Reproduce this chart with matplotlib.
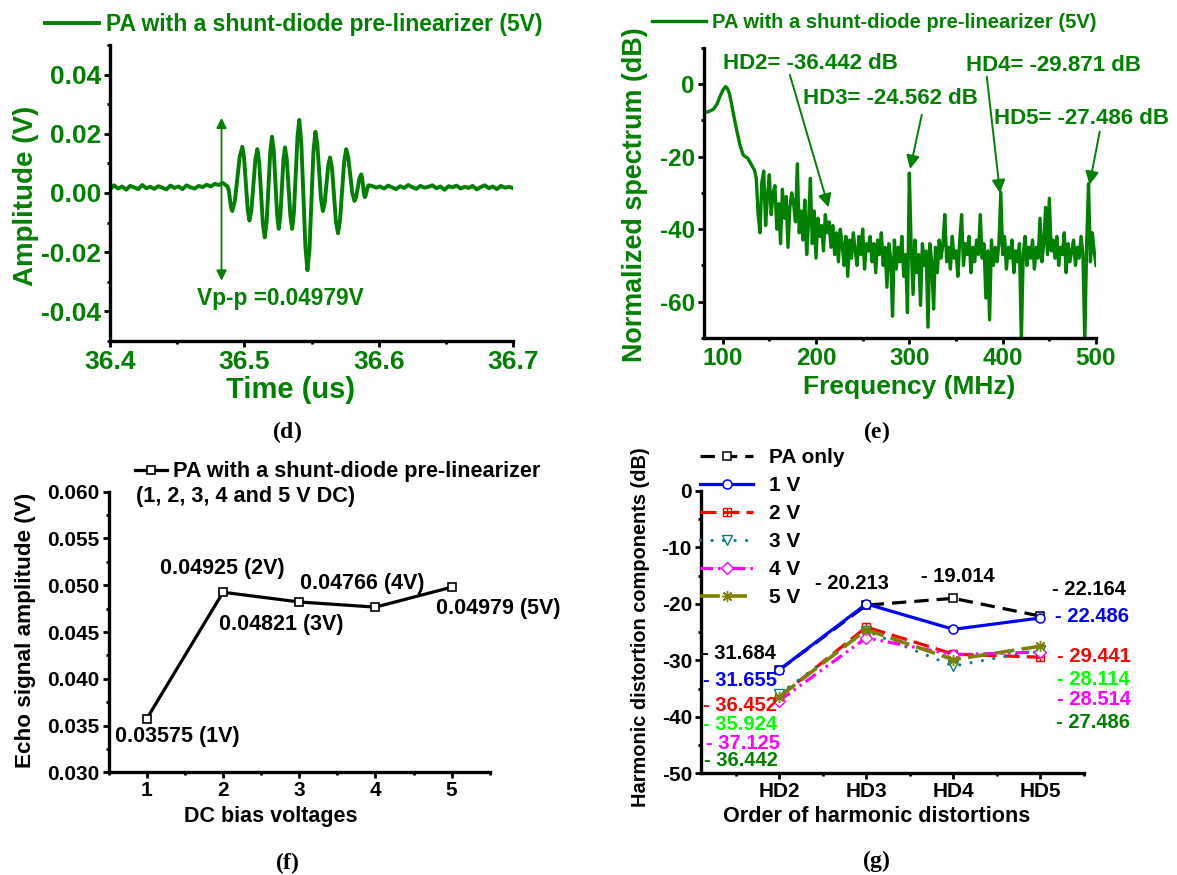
import numpy as np
import matplotlib
matplotlib.use('Agg')
import matplotlib.pyplot as plt
from matplotlib.path import Path
from matplotlib.ticker import MultipleLocator, FormatStrFormatter

plt.rcParams['font.family'] = ['Liberation Sans', 'DejaVu Sans']
plt.rcParams['font.weight'] = 'bold'
plt.rcParams['axes.unicode_minus'] = False
plt.rcParams['mathtext.fontset'] = 'custom'
plt.rcParams['mathtext.rm'] = 'Liberation Serif'
plt.rcParams['mathtext.bf'] = 'Liberation Serif:bold'

GREEN = '#008000'
W, H = 1177, 875

# ---------------- (d) echo waveform, PA + shunt diode (5V) ----------------
t_pre = np.arange(36.400, 36.4851, 0.003)   # scope sample grid
v_pre = [0.0012, 0.0026, 0.0015, 0.0022, 0.0011, 0.0024, 0.0019, 0.0013, 0.0027, 0.0016,
         0.0021, 0.0014, 0.0023, 0.0018, 0.0012, 0.0025, 0.0017, 0.0022, 0.0013, 0.0026,
         0.0019, 0.0015, 0.0024, 0.0020, 0.0028, 0.0022, 0.0031, 0.0027, 0.0034]
# burst: peaks/troughs plus the shoulders
t_burst = [36.4875, 36.4884, 36.4901, 36.4910, 36.4929, 36.4966, 36.4985, 36.4998, 36.5025,
           36.5038, 36.5053, 36.5082, 36.5097, 36.5111, 36.5138, 36.5152, 36.5166, 36.5193,
           36.5206, 36.5219, 36.5244, 36.5256, 36.5268, 36.5291, 36.5303, 36.5316, 36.5343,
           36.5356, 36.5369, 36.5396, 36.5409, 36.5424, 36.5455, 36.5470, 36.5485, 36.5514,
           36.5529, 36.5543, 36.5571, 36.5585, 36.5598, 36.5625, 36.5638, 36.5653, 36.5682,
           36.5697, 36.5712, 36.5743, 36.5758, 36.5773, 36.5804, 36.5820, 36.5832, 36.5857,
           36.5870, 36.5877, 36.5890, 36.5897, 36.5904, 36.5918, 36.5925]
v_burst = [0.0022, 0.0010, -0.0049, -0.0061, -0.0028, 0.0123, 0.0156, 0.0119, -0.0056,
           -0.0093, -0.0057, 0.0112, 0.0148, 0.0103, -0.0105, -0.0150, -0.0099, 0.0139,
           0.0190, 0.0143, -0.0074, -0.0121, -0.0080, 0.0113, 0.0154, 0.0113, -0.0080,
           -0.0121, -0.0066, 0.0192, 0.0247, 0.0171, -0.0185, -0.0261, -0.0191, 0.0137,
           0.0207, 0.0167, -0.0021, -0.0061, -0.0034, 0.0093, 0.0120, 0.0082, -0.0098,
           -0.0136, -0.0093, 0.0105, 0.0148, 0.0122, -0.0001, -0.0027, -0.0014, 0.0050,
           0.0063, 0.0051, -0.0002, -0.0014, -0.0008, 0.0020, 0.0026]
t_post = np.arange(36.595, 36.7001, 0.003)
v_post = [0.0024, 0.0018, 0.0022, 0.0015, 0.0025, 0.0019, 0.0013, 0.0023, 0.0017, 0.0027,
          0.0020, 0.0014, 0.0024, 0.0018, 0.0021, 0.0026, 0.0016, 0.0022, 0.0011, 0.0023,
          0.0019, 0.0025, 0.0015, 0.0021, 0.0017, 0.0024, 0.0012, 0.0020, 0.0026, 0.0016,
          0.0022, 0.0013, 0.0024, 0.0018, 0.0021, 0.0017]
vpp_top, vpp_bot, vpp_t = 0.0254, -0.0296, 36.483

# ---------------- (e) normalized spectrum ----------------
f_low = [80, 85, 90, 94, 97, 100, 103, 105, 107, 109, 111.4, 115, 118.5, 122, 127, 131, 134]
db_low = [-7.9, -7.6, -7.0, -5.5, -3.5, -1.8, -0.7, -1.2, -2.4, -4.8, -8.1, -12.7, -16.8,
          -19.6, -20.5, -22.3, -23.7]
f_noise = np.arange(136, 501, 2)   # analyser bins
db_noise = [
    -26, -36, -41, -27, -24, -39, -31, -25, -36, -30,
    -28, -40, -33, -44, -29, -37, -31, -45, -34, -30,
    -33, -38, -22, -41, -35, -43, -32, -47, -38, -26,
    -44, -35, -48, -37, -42, -39, -46, -36, -41, -38,
    -45, -39, -47, -41, -49, -40, -44, -50, -42, -53,
    -43, -48, -41, -46, -50, -42, -47, -40, -51, -44,
    -46, -42, -49, -44, -52, -43, -47, -41, -50, -45,
    -56, -44, -48, -64, -43, -51, -45, -49, -42, -53,
    -47, -63, -24.562, -45, -58, -43, -52, -47, -61, -44,
    -50, -46, -67, -44, -49, -62, -45, -52, -43, -48,
    -44, -36, -49, -45, -51, -42, -48, -46, -53, -43,
    -36, -50, -44, -47, -42, -52, -45, -49, -43, -47,
    -36, -48, -44, -59, -46, -65, -43, -50, -45, -49,
    -44, -29.871, -47, -42, -51, -45, -48, -43, -52, -46,
    -49, -44, -71, -47, -42, -50, -45, -48, -43, -51,
    -45, -48, -37, -49, -44, -34, -47, -31.5, -46, -43,
    -48, -42, -50, -45, -47, -41, -52, -44, -49, -46,
    -43, -50, -45, -48, -42, -47, -71, -44, -27.486, -49,
    -41, -46, -50]
hd_notes = ['HD2= -36.442 dB', 'HD3= -24.562 dB', 'HD4= -29.871 dB', 'HD5= -27.486 dB']
hd_tip = [(213.5, -34.0), (300.8, -23.4), (397.2, -30.1), (493.0, -27.8)]
hd_tail = [(172.0, 2.5), (313.3, -8.5), (383.0, 2.0), (504.0, -13.1)]
hd_text_at = [(194, 5.7), (280, -3.9), (454.6, 4.96), (485, -9.45)]

# ---------------- (f) echo amplitude vs DC bias ----------------
bias = [1, 2, 3, 4, 5]
echo_amp = [0.03575, 0.04925, 0.04821, 0.04766, 0.04979]
amp_notes = ['0.03575 (1V)', '0.04925 (2V)', '0.04821 (3V)', '0.04766 (4V)', '0.04979 (5V)']
amp_note_at = [(1.403, 0.03388), (1.991, 0.05181), (2.768, 0.04575), (3.831, 0.05021),
               (5.615, 0.04746)]

# ---------------- (g) harmonic distortion components ----------------
orders = ['HD2', 'HD3', 'HD4', 'HD5']
order_pos = [2, 3, 4, 5]
hd_pa = [-31.684, -20.213, -19.014, -22.164]
hd_1v = [-31.655, -20.0, -24.5, -22.486]
hd_2v = [-36.452, -24.1, -28.9, -29.441]
hd_3v = [-35.924, -24.8, -31.0, -28.114]
hd_4v = [-37.125, -26.0, -29.0, -28.514]
hd_5v = [-36.442, -24.562, -29.871, -27.486]
left_notes = ['- 31.684', '- 31.655', '- 36.452', '- 35.924', '- 37.125', '- 36.442']
left_y = [-28.86, -33.59, -38.07, -41.44, -44.80, -47.81]
left_x = [1.537, 1.543, 1.543, 1.547, 1.577, 1.560]
right_notes = ['- 22.164', '- 22.486', '- 29.441', '- 28.114', '- 28.514', '- 27.486']
right_y = [-17.41, -22.26, -29.34, -33.35, -36.89, -40.96]
right_x = [5.558, 5.588, 5.608, 5.611, 5.611, 5.608]
note_colors = ['black', '#0000ff', '#ff0000', '#00ff00', '#ff00ff', GREEN]


def fx(px):
    return px / W


def fy(py):
    return 1 - py / H


def box(l, t, r, b):
    return [fx(l), fy(b), (r - l) / W, (b - t) / H]


def style(ax, color, size):
    for s in ['top', 'right']:
        ax.spines[s].set_visible(False)
    for s in ['left', 'bottom']:
        ax.spines[s].set_linewidth(2.4)
    ax.tick_params(which='major', direction='out', length=4, width=2,
                   labelsize=size, labelcolor=color, pad=2.5)
    ax.tick_params(which='minor', direction='out', length=2.5, width=2)


fig = plt.figure(figsize=(W / 100, H / 100), dpi=100)

# (d)
ax = fig.add_axes(box(110, 45, 513, 341))
t_all = np.concatenate([t_pre, t_burst, t_post])
v_all = np.concatenate([v_pre, v_burst, v_post])
ax.plot(t_all, v_all, color=GREEN, lw=2.8, solid_joinstyle='round',
        label='PA with a shunt-diode pre-linearizer (5V)')
ax.set_xlim(36.4, 36.7)
ax.set_ylim(-0.05, 0.05)
ax.xaxis.set_major_locator(MultipleLocator(0.1))
ax.xaxis.set_minor_locator(MultipleLocator(0.05))
ax.yaxis.set_major_locator(MultipleLocator(0.02))
ax.yaxis.set_minor_locator(MultipleLocator(0.01))
ax.yaxis.set_major_formatter(FormatStrFormatter('%.2f'))
ax.xaxis.set_major_formatter(FormatStrFormatter('%.1f'))
style(ax, GREEN, 19)
ax.annotate('', xy=(vpp_t, vpp_top), xytext=(vpp_t, vpp_bot),
            arrowprops=dict(arrowstyle='<|-|>', color=GREEN, lw=1.3,
                            mutation_scale=15, shrinkA=0, shrinkB=0))
ax.text(36.5266, -0.0358, 'Vp-p =0.04979V', color=GREEN, fontsize=16.3,
        ha='center', va='center')
ax.legend(loc='center left', bbox_to_anchor=(fx(45), fy(25)), bbox_transform=fig.transFigure,
          frameon=False, borderpad=0, borderaxespad=0, handlelength=2.36,
          handletextpad=0.3, labelcolor=GREEN, prop={'size': 16.5, 'weight': 'bold'})
fig.text(fx(26), fy(196), 'Amplitude (V)', rotation=90, ha='center', va='center',
         color=GREEN, fontsize=20)
fig.text(fx(290.6), fy(390), 'Time (us)', ha='center', va='center', color=GREEN, fontsize=21)

# (e)
ax = fig.add_axes(box(704, 47.7, 1096, 338))
ax.plot(np.concatenate([f_low, f_noise]), np.concatenate([db_low, db_noise]),
        color=GREEN, lw=2.4, solid_joinstyle='round',
        label='PA with a shunt-diode pre-linearizer (5V)')
ax.set_xlim(80, 500)
ax.set_ylim(-70, 10)
ax.xaxis.set_major_locator(MultipleLocator(100))
ax.xaxis.set_minor_locator(MultipleLocator(50))
ax.yaxis.set_minor_locator(MultipleLocator(10))
ax.set_yticks([0, -20, -40, -60])
style(ax, GREEN, 17.5)
for note, tip, tail, at in zip(hd_notes, hd_tip, hd_tail, hd_text_at):
    ax.annotate('', xy=tip, xytext=tail, annotation_clip=False,
                arrowprops=dict(arrowstyle='-|>', color=GREEN, lw=1.4,
                                mutation_scale=20, shrinkA=0, shrinkB=0))
    ax.text(at[0], at[1], note, color=GREEN, fontsize=16, ha='center', va='center',
            clip_on=False)
ax.legend(loc='center left', bbox_to_anchor=(fx(652), fy(23)), bbox_transform=fig.transFigure,
          frameon=False, borderpad=0, borderaxespad=0, handlelength=2.7,
          handletextpad=0.27, labelcolor=GREEN, prop={'size': 14.5, 'weight': 'bold'})
fig.text(fx(635), fy(195), 'Normalized spectrum (dB)', rotation=90, ha='center', va='center',
         color=GREEN, fontsize=19.4)
fig.text(fx(909), fy(387), 'Frequency (MHz)', ha='center', va='center', color=GREEN,
         fontsize=19)

# (f)
ax = fig.add_axes(box(108.8, 491.7, 489.7, 772.3))
ax.plot(bias, echo_amp, color='black', lw=2.3, marker='s', ms=6, mfc='white', mec='black',
        mew=1.2, label='PA with a shunt-diode pre-linearizer')
ax.set_xlim(0.5, 5.5)
ax.set_ylim(0.030, 0.060)
ax.xaxis.set_major_locator(MultipleLocator(1))
ax.xaxis.set_minor_locator(MultipleLocator(0.5))
ax.yaxis.set_major_locator(MultipleLocator(0.005))
ax.yaxis.set_minor_locator(MultipleLocator(0.0025))
ax.yaxis.set_major_formatter(FormatStrFormatter('%.3f'))
style(ax, 'black', 15)
for note, at in zip(amp_notes, amp_note_at):
    ax.text(at[0], at[1], note, fontsize=15.5, ha='center', va='center', clip_on=False)
ax.legend(loc='center left', bbox_to_anchor=(fx(135), fy(471.7)), bbox_transform=fig.transFigure,
          frameon=False, borderpad=0, borderaxespad=0, handlelength=1.47,
          handletextpad=0.3, prop={'size': 15.6, 'weight': 'bold'})
fig.text(fx(135.8), fy(496.7), '(1, 2, 3, 4 and 5 V DC)', ha='left', va='center', fontsize=15.6)
fig.text(fx(26), fy(630.5), 'Echo signal amplitude (V)', rotation=90, ha='center',
         va='center', fontsize=16.2)
fig.text(fx(271), fy(816.7), 'DC bias voltages', ha='center', va='center', fontsize=15.5)

# (g)
box_cross = Path([(-1, -1), (1, -1), (1, 1), (-1, 1), (-1, -1), (0, -1), (0, 1), (-1, 0), (1, 0)],
                 [Path.MOVETO, Path.LINETO, Path.LINETO, Path.LINETO, Path.LINETO,
                  Path.MOVETO, Path.LINETO, Path.MOVETO, Path.LINETO])
ax = fig.add_axes(box(701, 491, 1084, 773.3))
ax.plot(order_pos, hd_pa, color='black', lw=2.3, dashes=(4.5, 2.5), marker='s', ms=5.5,
        mfc='white', mec='black', mew=1.1, label='PA only')
ax.plot(order_pos, hd_1v, color='#0000ff', lw=2.3, marker='o', ms=6.5, mfc='white',
        mec='#0000ff', mew=1.1, label='1 V')
ax.plot(order_pos, hd_2v, color='#ff0000', lw=2.3, dashes=(5, 2.2), marker=box_cross, ms=6,
        mfc='none', mec='#ff0000', mew=1.0, label='2 V')
ax.plot(order_pos, hd_3v, color='#008080', lw=2.3, dashes=(0.01, 3.6), dash_capstyle='round',
        marker='v', ms=7, mfc='white', mec='#008080', mew=1.0, label='3 V')
ax.plot(order_pos, hd_4v, color='#ff00ff', lw=2.3, dashes=(4, 1.5, 0.8, 1.5, 0.8, 1.5),
        marker='D', ms=6, mfc='white', mec='#ff00ff', mew=1.0, label='4 V')
ax.plot(order_pos, hd_5v, color='#808000', lw=2.6, dashes=(5.5, 2), marker=(8, 2, 0), ms=8,
        mec='#808000', mew=1.0, label='5 V')
ax.set_xlim(1.1, 5.5)
ax.set_ylim(-50, 0)
ax.set_xticks(order_pos)
ax.set_xticklabels(orders)
ax.xaxis.set_minor_locator(MultipleLocator(0.5))
ax.yaxis.set_major_locator(MultipleLocator(10))
ax.yaxis.set_minor_locator(MultipleLocator(5))
style(ax, 'black', 15)
for note, x, y, c in zip(left_notes, left_x, left_y, note_colors):
    ax.text(x, y, note, color=c, fontsize=14.5, ha='center', va='center', clip_on=False)
for note, x, y, c in zip(right_notes, right_x, right_y, note_colors):
    ax.text(x, y, note, color=c, fontsize=14.5, ha='center', va='center', clip_on=False)
ax.text(2.835, -16.47, '- 20.213', fontsize=14.5, ha='center', va='center')
ax.text(4.047, -15.18, '- 19.014', fontsize=14.5, ha='center', va='center')
ax.legend(loc='upper left', bbox_to_anchor=(fx(700), fy(448)), bbox_transform=fig.transFigure,
          frameon=False, borderpad=0, borderaxespad=0, handlelength=2.55,
          handletextpad=0.78, labelspacing=0.43, prop={'size': 15, 'weight': 'bold'})
fig.text(fx(641), fy(627), 'Harmonic distortion components (dB)', rotation=90, ha='center',
         va='center', fontsize=14.4)
fig.text(fx(876.8), fy(816.7), 'Order of harmonic distortions', ha='center', va='center',
         fontsize=15.6)

# sub-figure captions
for letter, px, py in [('d', 287, 432), ('e', 877, 432), ('f', 287, 863), ('g', 876, 861)]:
    fig.text(fx(px), fy(py), r'$\mathrm{(}\mathbf{%s}\mathrm{)}$' % letter, ha='center',
             va='center', fontsize=17)

fig.savefig('out.png', dpi=100)
